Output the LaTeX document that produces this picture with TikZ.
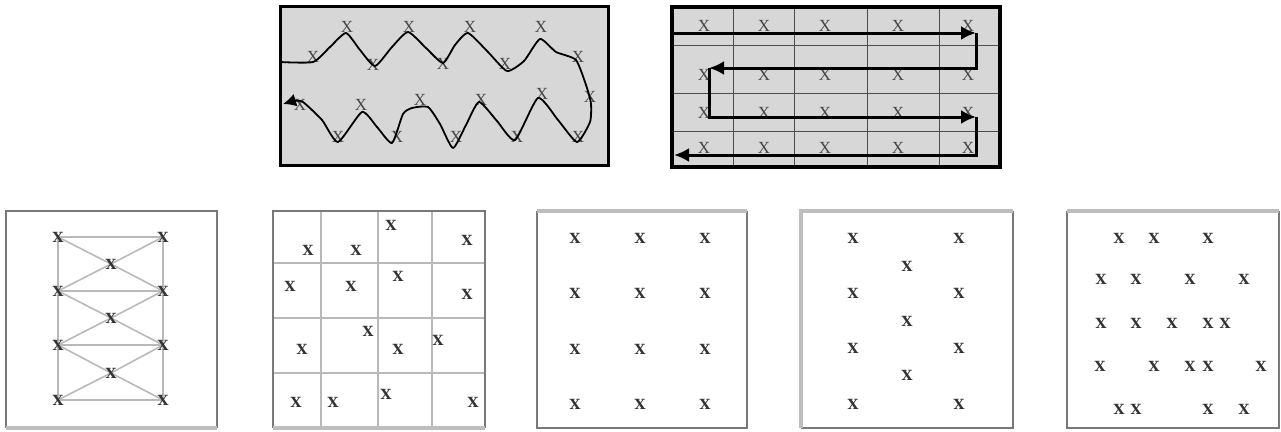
\documentclass[tikz,border=0pt]{standalone}
\usepackage{fontspec}
\setmainfont{Liberation Serif}
\newfontfamily\markfont{DejaVu Serif}
\usetikzlibrary{arrows.meta, backgrounds}
\definecolor{panelgray}{RGB}{215, 215, 215}
\definecolor{framedark}{RGB}{120, 120, 120}
\definecolor{framelight}{RGB}{190, 190, 190}
\definecolor{linkgray}{RGB}{185, 185, 185}
\definecolor{markgray}{RGB}{70, 70, 70}

\begin{document}
\begin{tikzpicture}[x=1pt, y=-1pt,
    bigx/.style={font=\fontsize{17}{17}\selectfont, text=markgray, inner sep=0pt},
    smallx/.style={font=\markfont\bfseries\fontsize{14}{14}\selectfont, text=black!80, inner sep=0pt},
    route/.style={line width=3pt, line join=miter, -{Latex[length=15pt,width=14pt]}},
    snake/.style={line width=1.8pt, line join=round, -{Latex[length=13pt,width=13pt]}},
    frameD/.style={draw=framedark, line width=2pt},
    frameL/.style={draw=framelight, line width=4pt},
    link/.style={draw=linkgray, line width=1.6pt},
    gridln/.style={draw=black!70, line width=0.8pt}]
\useasboundingbox (0,0) rectangle (1281,431);

% Top left: zig-zag sweep
\fill[panelgray] (280,6) rectangle (608,165);
\foreach \x/\y [count=\i] in {313/57,347/27,373/65,409/27,443/64,470/27,505/64,541/27,578/57,590/97,
    300/105,361/105,338/137,420/100,397/137,481/100,456/137,542/94,517/137,578/137}
  \node[bigx] (zz\i) at (\x,\y) {X};
\draw[snake] plot[smooth, tension=0.35] coordinates {(280,62) (313,62) (330,47) (346,33) (360,50)
    (375,66) (392,47) (408,32) (426,48) (443,63) (455,45) (468,33) (488,52) (507,71) (524,61)
    (540,39) (556,52) (576,60) (587,88) (591,104) (590,122) (577,142) (558,120) (538,98)
    (515,140) (497,121) (479,102) (466,125) (453,148) (440,124) (428,107) (412,108) (403,114)
    (392,143) (377,127) (362,112) (338,142) (322,120) (303,102) (294,101) (283,104)};
\draw[line width=3pt] (280,6) rectangle (608,165);

% Top right: grid with serpentine route
\fill[panelgray] (672,7) rectangle (1000,167);
\foreach \x in {733,794,867,939}
  \draw[gridln] (\x,7) -- (\x,167);
\foreach \y in {45,93,131}
  \draw[gridln] (672,\y) -- (1000,\y);
\foreach \y [count=\r] in {26,75,113,148}
  \foreach \x [count=\c] in {704,764,825,898,968}
    \node[bigx] (g\r\c) at (\x,\y) {X};
\coordinate (s0) at (672,33);
\coordinate (s1) at (976,33);
\coordinate (s2) at (709,68);
\coordinate (s3) at (976,117);
\coordinate (s4) at (674,155);
\draw[route] (s0) -- (s1);
\draw[route] (s1) |- (s2);
\draw[route] (s2) |- (s3);
\draw[route] (s3) |- (s4);
\draw[line width=3.5pt] (672,7) rectangle (1000,167);

% Bottom 1: linked ladder
\foreach \y [count=\i] in {237,291,345,400} {
  \node[smallx] (l\i) at (58,\y) {X};
  \node[smallx] (r\i) at (163,\y) {X};
}
\foreach \y [count=\i] in {264,318,373}
  \node[smallx] (m\i) at (111,\y) {X};
\begin{scope}[on background layer]
  \foreach \i/\j in {1/2,2/3,3/4} {
    \draw[link] (l\i.center) -- (l\j.center);
    \draw[link] (r\i.center) -- (r\j.center);
    \draw[link] (l\i.center) -- (m\i.center) -- (r\j.center);
    \draw[link] (r\i.center) -- (m\i.center) -- (l\j.center);
  }
  \foreach \i in {1,...,4}
    \draw[link] (l\i.center) -- (r\i.center);
\end{scope}
\draw[frameD] (6,428) -- (6,211) -- (217,211) -- (217,428);
\draw[frameL] (6,428) -- (217,428);

% Bottom 2: stratified random
\foreach \x in {321,378,432}
  \draw[link] (\x,211) -- (\x,428);
\foreach \y in {263,318,373}
  \draw[link] (273,\y) -- (485,\y);
\foreach \x/\y [count=\i] in {308/250,356/250,391/225,467/240,290/286,351/286,398/276,467/294,
    302/349,368/331,398/349,438/340,296/402,333/402,386/394,473/402}
  \node[smallx] (st\i) at (\x,\y) {X};
\draw[frameD] (273,428) -- (273,211) -- (485,211) -- (485,428);
\draw[frameL] (273,428) -- (485,428);

% Bottom 3: square grid
\foreach \x [count=\c] in {575,640,705}
  \foreach \y [count=\r] in {238,293,349,404}
    \node[smallx] (sq\r\c) at (\x,\y) {X};
\draw[frameD] (537,211) -- (537,428) -- (747,428) -- (747,211);
\draw[frameL] (537,211) -- (747,211);

% Bottom 4: staggered grid
\foreach \y [count=\i] in {238,293,348,404} {
  \node[smallx] (wl\i) at (853,\y) {X};
  \node[smallx] (wr\i) at (959,\y) {X};
}
\foreach \y [count=\i] in {266,321,375}
  \node[smallx] (wm\i) at (907,\y) {X};
\draw[frameD] (801,428) -- (1013,428) -- (1013,211);
\draw[frameL] (801,428) -- (801,211) -- (1013,211);

% Bottom 5: random
\foreach \x/\y [count=\i] in {1119/238,1154/238,1208/238,
    1101/279,1136/279,1190/279,1244/279,
    1101/323,1136/323,1172/323,1208/323,1225/323,
    1100/366,1154/366,1190/366,1208/366,1261/366,
    1119/409,1136/409,1208/409,1244/409}
  \node[smallx] (rn\i) at (\x,\y) {X};
\draw[frameD] (1067,211) -- (1067,428) -- (1279,428) -- (1279,211);
\draw[frameL] (1067,211) -- (1279,211);
\end{tikzpicture}
\end{document}
